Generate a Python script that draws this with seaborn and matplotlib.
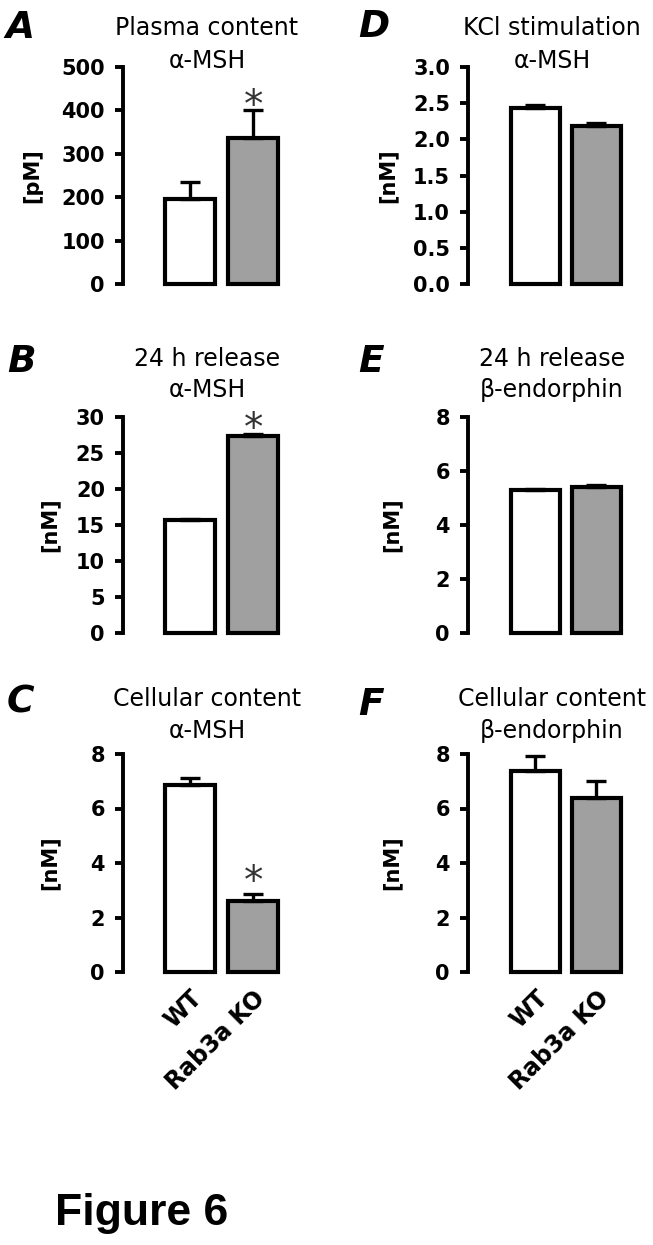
import matplotlib
matplotlib.use("Agg")
import matplotlib.pyplot as plt
import seaborn as sns
import pandas as pd

sns.set_style("white")
plt.rcParams['font.family'] = ['DejaVu Sans']
plt.rcParams['text.color'] = 'black'
plt.rcParams['axes.labelcolor'] = 'black'
plt.rcParams['xtick.color'] = 'black'
plt.rcParams['ytick.color'] = 'black'

# ---------------- data ----------------
groups = ["WT", "Rab3a KO"]
bar_colors = ["#ffffff", "#a0a0a0"]

a_mean = [195, 337]
a_sem = [40, 63]
b_mean = [15.7, 27.4]
b_sem = [0.2, 0.3]
c_mean = [6.85, 2.62]
c_sem = [0.27, 0.26]
d_mean = [2.43, 2.19]
d_sem = [0.04, 0.04]
e_mean = [5.28, 5.42]
e_sem = [0.07, 0.07]
f_mean = [7.36, 6.40]
f_sem = [0.55, 0.60]

a_ticks = [0, 100, 200, 300, 400, 500]
b_ticks = [0, 5, 10, 15, 20, 25, 30]
c_ticks = [0, 2, 4, 6, 8]
d_ticks = [0.0, 0.5, 1.0, 1.5, 2.0, 2.5, 3.0]
e_ticks = [0, 2, 4, 6, 8]
f_ticks = [0, 2, 4, 6, 8]

titles = [
    ("Plasma content", "α-MSH"),
    ("24 h release", "α-MSH"),
    ("Cellular content", "α-MSH"),
    ("KCl stimulation", "α-MSH"),
    ("24 h release", "β-endorphin"),
    ("Cellular content", "β-endorphin"),
]
letters = ["A", "B", "C", "D", "E", "F"]
units = ["[pM]", "[nM]", "[nM]", "[nM]", "[nM]", "[nM]"]
# significance star heights (data units) for the KO bar, None = no star
star_y = [433, 29.7, 3.67, None, None, None]

# ---------------- layout (pixels) ----------------
W, H = 653, 1245
fig = plt.figure(figsize=(W / 100, H / 100), dpi=100)

def fx(x):
    return x / W

def fy(y):
    return 1 - y / H

rows = [(67, 284), (417, 633), (754, 972)]
cols = [(123, 291, -1.063), (468, 633, -1.107)]
label_right = [42, 60, 60, 398, 402, 402]
title_cx = [207, 552]
title_base = [(35, 68), (366, 397), (706, 738)]
letter_pos = [(5, 38), (7, 372), (7, 713), (358, 37), (358, 372), (358, 715)]

means = [a_mean, b_mean, c_mean, d_mean, e_mean, f_mean]
sems = [a_sem, b_sem, c_sem, d_sem, e_sem, f_sem]
ticks = [a_ticks, b_ticks, c_ticks, d_ticks, e_ticks, f_ticks]

for i in range(6):
    col = i // 3
    row = i % 3
    left, right, xl = cols[col]
    top, bottom = rows[row]
    ax = fig.add_axes([fx(left), fy(bottom), fx(right - left), (bottom - top) / H])
    df = pd.DataFrame({"group": groups, "value": means[i]})
    sns.barplot(data=df, x="group", y="value", hue="group", order=groups,
                hue_order=groups, palette=bar_colors, width=0.8,
                edgecolor="black", linewidth=3.0, errorbar=None,
                legend=False, ax=ax, zorder=2)
    for p in ax.patches:
        p.set_clip_on(False)
    ax.errorbar([0, 1], means[i], yerr=[[0, 0], sems[i]], fmt="none",
                ecolor="black", elinewidth=2.4, capsize=7, capthick=2.4,
                zorder=3, clip_on=False)
    tk = ticks[i]
    ax.set_ylim(0, tk[-1])
    ax.set_xlim(xl, 1.6)
    if col == 1 and row == 0:
        tl = [f"{t:.1f}" for t in tk]
    else:
        tl = [f"{t:g}" for t in tk]
    ax.set_yticks(tk, labels=tl, fontweight="bold", fontsize=15)
    ax.tick_params(axis="y", direction="out", length=6, width=2.8, pad=7,
                   left=True, colors="black")
    ax.tick_params(axis="x", length=0)
    sns.despine(ax=ax, top=True, right=True, bottom=True)
    ax.spines["left"].set_linewidth(2.8)
    ax.spines["left"].set_color("black")
    ax.set_ylabel(units[i], fontweight="bold", fontsize=15)
    ax.yaxis.set_label_coords((label_right[i] - left) / (right - left), 0.5)
    ax.set_xlabel("")
    if row == 2:
        ax.set_xticks([0, 1], labels=groups, rotation=45, ha="right",
                      rotation_mode="anchor", fontweight="bold", fontsize=17)
        ax.tick_params(axis="x", pad=10)
    else:
        ax.set_xticks([0, 1], labels=["", ""])
    ax.grid(False)
    ax.set_facecolor("none")

    if star_y[i] is not None:
        ax.annotate("*", xy=(1, star_y[i]), xytext=(0, -15),
                    textcoords="offset points", ha="center", va="baseline",
                    fontsize=28, color="#333333", annotation_clip=False)

    l1, l2 = titles[i]
    b1, b2 = title_base[row]
    fig.text(fx(title_cx[col]), fy(b1), l1, ha="center", va="baseline",
             fontsize=17)
    fig.text(fx(title_cx[col]), fy(b2), l2, ha="center", va="baseline",
             fontsize=17)
    lx, ly = letter_pos[i]
    fig.text(fx(lx), fy(ly), letters[i], ha="left", va="baseline",
             fontsize=27, fontweight="bold", fontstyle="italic")

fig.text(fx(55), fy(1225), "Figure 6", ha="left", va="baseline",
         fontsize=32, fontweight="bold", family=["Liberation Sans", "DejaVu Sans"])

fig.savefig("out.png", dpi=100)
